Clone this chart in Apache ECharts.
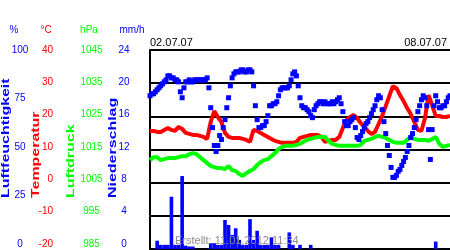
<!DOCTYPE html>
<html>
<head>
<meta charset="utf-8">
<script src="https://cdn.jsdelivr.net/npm/echarts@6/dist/echarts.min.js"></script>
<style>html,body{margin:0;padding:0;background:#fff}#c{width:450px;height:250px}</style>
</head>
<body>
<div id="c"></div>
<script>
// ---- data (time in hours since 02.07.07 00:00) ----
const startLabel = '02.07.07';
const endLabel = '08.07.07';
const createdLabel = 'Erstellt: 11.01.2012 11:34';
const spanHours = 168;

// relative humidity (%), hourly
const humidity = [
77,78,78,79,80,81,82,83,84,85,
87,87,86,86,85,85,84,79,76,81,
84,84,85,84,84,85,85,85,85,85,
85,85,86,81,71,61,52,49,52,57,
55,61,65,71,76,82,86,88,89,89,
89,90,90,89,89,90,90,89,82,72,
65,61,61,62,62,64,67,72,72,73,
73,74,77,80,81,81,81,81,82,85,
88,89,87,82,76,72,71,71,70,69,
67,66,70,72,73,74,74,73,74,73,
73,73,74,73,74,75,76,73,69,64,
62,62,64,65,66,61,56,55,57,59,
61,63,64,66,68,70,72,75,77,76,
70,64,58,52,47,41,36,36,37,39,
40,42,44,46,49,52,56,58,61,65,
69,72,75,77,76,72,60,45,60,72,
77,74,71,71,72,72,74,76,77
];

// temperature (°C), every 2 hours
const temperature = [
15.6,15.6,15.3,15.3,15.9,16.5,15.9,15.6,16.8,16.2,
15.0,14.7,14.4,14.4,14.1,13.8,13.2,18.3,21.6,19.8,
18.3,15.0,13.8,13.5,13.5,13.5,13.2,12.9,12.3,15.9,
15.6,15.0,14.4,13.8,13.2,12.6,12.3,12.0,12.0,12.0,
12.0,12.3,13.5,13.8,14.1,14.4,14.4,14.4,13.8,12.3,
12.6,12.9,12.9,13.8,16.5,18.9,19.8,20.4,19.5,18.0,
16.8,15.6,14.7,15.3,17.7,20.1,23.1,26.1,29.1,28.5,
26.4,24.6,22.5,20.7,18.3,15.9,15.6,19.5,26.4,23.4,
20.1,20.1,19.8,19.8,20.1
];

// air pressure (hPa), every 2 hours
const pressure = [
1011.8,1012.7,1012.7,1011.8,1012.1,1012.4,1012.4,1012.4,1012.7,1013.0,
1013.0,1013.6,1013.9,1013.6,1012.7,1011.8,1010.9,1010.0,1009.7,1009.4,
1009.4,1009.1,1010.0,1008.8,1008.5,1007.6,1007.0,1007.9,1008.5,1009.1,
1010.3,1011.2,1011.8,1012.1,1013.0,1013.9,1015.1,1015.8,1016.1,1016.1,
1016.1,1016.4,1016.7,1017.3,1017.9,1018.2,1018.5,1018.8,1018.8,1018.8,
1017.6,1016.7,1016.4,1016.1,1016.1,1016.1,1016.1,1016.1,1016.1,1016.4,
1017.6,1017.9,1018.2,1018.8,1019.1,1018.8,1018.5,1017.9,1017.3,1017.0,
1017.0,1017.0,1017.9,1018.8,1018.2,1017.9,1017.9,1017.9,1017.6,1018.2,
1018.8,1016.7,1015.8,1016.1,1016.4
];

// precipitation (mm/h), every 2 hours
const rain = [
0,0,1.0,0.5,0.5,0.5,6.3,0.5,0.5,8.8,
0.4,0.3,0.3,0,0,0,0,0.7,0.7,0.5,
0.5,3.5,2.9,1.7,2.5,1.1,0.5,0.5,3.6,1.1,
2.2,0.5,0.5,0.5,1.4,0.5,0.5,0,0,2.0,
0.5,0,0.5,0,0,0.5,0,0,0,0,
0,0,0,0,0,0,0,0,0,0,
0,0,0,0,0,0,0,0,0,0,
0,0,0,0,0,0,0,0,0,0,
0.9,0,0,0,0
];

// tick labels
const humidityTicks = [0, 25, 50, 75, 100];
const tempTicks = [-20, -10, 0, 10, 20, 30, 40];
const pressureTicks = [985, 995, 1005, 1015, 1025, 1035, 1045];
const rainTicks = [0, 4, 8, 12, 16, 20, 24];
const units = ['%', '°C', 'hPa', 'mm/h'];
const axisNames = ['Luftfeuchtigkeit', 'Temperatur', 'Luftdruck', 'Niederschlag'];

// ---- build ----
const BLUE = '#0000ff', RED = '#ff0000', GREEN = '#00ff00';
const FONT = '"Liberation Sans", Arial, sans-serif';
const hourly = humidity.map((v, i) => [i, v]);
const twoHourly = arr => arr.map((v, i) => [i * 2, v]);

function labelAxis(ticks, offset, color, align) {
  const mn = ticks[0], mx = ticks[ticks.length - 1];
  return {
    type: 'value', gridIndex: 1, position: 'left', offset: offset,
    min: mn, max: mx, interval: ticks[1] - ticks[0],
    axisLine: {show: false}, axisTick: {show: false}, splitLine: {show: false},
    axisLabel: {show: true, color: color, fontSize: 10, fontFamily: FONT, margin: 0, align: align,
                formatter: v => String(v)}
  };
}

const chart = echarts.init(document.getElementById('c'), null, {renderer: 'canvas'});
const option = {
  animation: false,
  backgroundColor: '#fff',
  grid: [
    {left: 150, top: 50, width: 300, height: 199, show: false},
    {left: 150, top: 50, width: 300, height: 194, show: false}
  ],
  xAxis: [
    {type: 'value', gridIndex: 0, min: 0, max: spanHours,
     axisLine: {show: true, onZero: false, lineStyle: {color: '#000', width: 2}},
     axisTick: {show: false}, axisLabel: {show: false}, splitLine: {show: false}},
    {type: 'value', gridIndex: 1, min: 0, max: spanHours, show: false}
  ],
  yAxis: [
    {type: 'value', gridIndex: 0, min: tempTicks[0], max: tempTicks[tempTicks.length - 1], interval: 10,
     axisLine: {show: true, lineStyle: {color: '#000', width: 2}}, axisTick: {show: false}, axisLabel: {show: false},
     splitLine: {show: true, lineStyle: {color: '#000', width: 2}}},
    {type: 'value', gridIndex: 0, min: 0, max: 100, show: false},
    {type: 'value', gridIndex: 0, min: 985, max: 1045, show: false},
    {type: 'value', gridIndex: 0, min: 0, max: 24, show: false},
    labelAxis(humidityTicks, 130, BLUE, 'center'),
    labelAxis(tempTicks, 97, RED, 'right'),
    labelAxis(pressureTicks, 58.5, GREEN, 'center'),
    labelAxis(rainTicks, 26, BLUE, 'center')
  ],
  series: [
    {type: 'bar', xAxisIndex: 0, yAxisIndex: 3, data: twoHourly(rain), barWidth: 3.6,
     itemStyle: {color: BLUE}, z: 1},
    {type: 'line', xAxisIndex: 0, yAxisIndex: 0, data: twoHourly(temperature), showSymbol: false,
     lineStyle: {color: RED, width: 4}, z: 2},
    {type: 'line', xAxisIndex: 0, yAxisIndex: 2, data: twoHourly(pressure), showSymbol: false,
     lineStyle: {color: GREEN, width: 4}, z: 3},
    {type: 'scatter', xAxisIndex: 0, yAxisIndex: 1, data: hourly, symbol: 'rect', symbolSize: [5, 5],
     itemStyle: {color: BLUE, opacity: 1}, z: 4}
  ],
  graphic: [
    {type: 'text', x: 150, y: 43, style: {text: startLabel, font: '11px ' + FONT, fill: '#000', textAlign: 'left', textVerticalAlign: 'middle'}},
    {type: 'text', x: 447, y: 43, style: {text: endLabel, font: '11px ' + FONT, fill: '#000', textAlign: 'right', textVerticalAlign: 'middle'}},
    {type: 'text', x: 14, y: 30, style: {text: units[0], font: '10px ' + FONT, fill: BLUE, textAlign: 'center', textVerticalAlign: 'middle'}},
    {type: 'text', x: 46, y: 30, style: {text: units[1], font: '10px ' + FONT, fill: RED, textAlign: 'center', textVerticalAlign: 'middle'}},
    {type: 'text', x: 89, y: 30, style: {text: units[2], font: '10px ' + FONT, fill: GREEN, textAlign: 'center', textVerticalAlign: 'middle'}},
    {type: 'text', x: 132, y: 30, style: {text: units[3], font: '10px ' + FONT, fill: BLUE, textAlign: 'center', textVerticalAlign: 'middle'}},
    {type: 'text', x: 6, y: 198, rotation: Math.PI / 2, scaleX: 1.45, style: {text: axisNames[0], font: 'bold 11px ' + FONT, fill: BLUE, textAlign: 'left', textVerticalAlign: 'middle'}},
    {type: 'text', x: 36, y: 198, rotation: Math.PI / 2, scaleX: 1.45, style: {text: axisNames[1], font: 'bold 11px ' + FONT, fill: RED, textAlign: 'left', textVerticalAlign: 'middle'}},
    {type: 'text', x: 71, y: 198, rotation: Math.PI / 2, scaleX: 1.45, style: {text: axisNames[2], font: 'bold 11px ' + FONT, fill: GREEN, textAlign: 'left', textVerticalAlign: 'middle'}},
    {type: 'text', x: 113, y: 198, rotation: Math.PI / 2, scaleX: 1.45, style: {text: axisNames[3], font: 'bold 11px ' + FONT, fill: BLUE, textAlign: 'left', textVerticalAlign: 'middle'}},
    {type: 'text', x: 175, y: 241, z: 100, style: {text: createdLabel, font: '11px ' + FONT, fill: '#8c8c8c', textAlign: 'left', textVerticalAlign: 'middle'}}
  ]
};
chart.setOption(option);
</script>
</body>
</html>
